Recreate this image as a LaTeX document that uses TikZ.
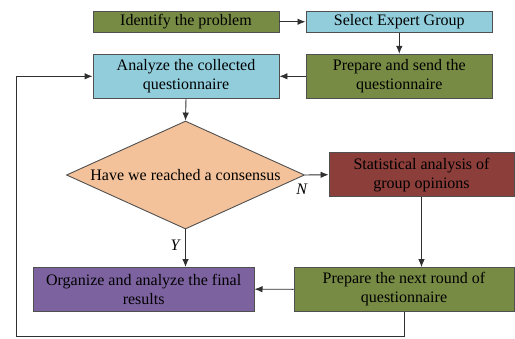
\documentclass[tikz,border=0pt]{standalone}
\usepackage{fontspec}
\setmainfont{Liberation Serif}
\usetikzlibrary{shapes.geometric,arrows.meta}
\definecolor{olivebox}{HTML}{778B45}
\definecolor{bluebox}{HTML}{92CDDC}
\definecolor{peachbox}{HTML}{F4C29A}
\definecolor{redbox}{HTML}{8C3E3A}
\definecolor{purplebox}{HTML}{7D62A0}
\definecolor{bordergray}{HTML}{505050}
\definecolor{linegray}{HTML}{303030}
\begin{document}
\begin{tikzpicture}[x=1pt,y=-1pt,
  font=\fontsize{16}{19}\selectfont,
  box/.style={draw=bordergray, line width=0.9pt, inner sep=0pt, align=center},
  onebox/.style={box, minimum height=21.5pt},
  twobox/.style={box, minimum height=44pt},
  arr/.style={draw=linegray, line width=0.9pt, -{Latex[length=8pt,width=6.5pt]}},
  lbl/.style={font=\fontsize{16}{19}\selectfont\itshape, inner sep=0pt}]
\useasboundingbox (0,0) rectangle (515,338);
\node[onebox, fill=olivebox, minimum width=186pt] (identify) at (186,21.75) {Identify the problem};
\node[onebox, fill=bluebox, minimum width=186.7pt] (select) at (399.3,21.75) {Select Expert Group};
\node[twobox, fill=olivebox, minimum width=186.7pt] (prepare) at (399.3,76.3) {Prepare and send the\\questionnaire};
\node[twobox, fill=bluebox, minimum width=186pt] (analyze) at (186,76.3) {Analyze the collected\\questionnaire};
\node[diamond, draw=bordergray, line width=0.9pt, fill=peachbox, inner sep=0pt, aspect=2.2,
      minimum width=238pt, minimum height=108pt] (decide) at (185.5,175) {Have we reached a consensus};
\node[twobox, fill=redbox, minimum width=185pt] (stat) at (421.5,174.7) {Statistical analysis of\\group opinions};
\node[twobox, fill=olivebox, minimum width=220pt, minimum height=43.5pt] (prepnext) at (404,289.3) {Prepare the next round of\\questionnaire};
\node[twobox, fill=purplebox, minimum width=220.7pt, minimum height=43.5pt] (organize) at (143.7,289.2) {Organize and analyze the final\\results};
\coordinate (loopcorner) at (16.3,336.7);

\draw[arr] (identify) -- (select);
\draw[arr] (select) -- (prepare);
\draw[arr] (prepare) -- (analyze);
\draw[arr] (analyze.south) -- (decide.north);
\draw[arr] (decide.east) -- (stat.west);
\draw[arr] (decide.south) -- (decide.south |- organize.north);
\draw[arr] (stat.south) -- (stat.south |- prepnext.north);
\draw[arr] (prepnext.west) -- (organize.east);
\draw[arr] (prepnext.south) |- (loopcorner) |- (analyze.west);
\node[lbl] (nlabel) at (301.7,189) {N};
\node[lbl] (ylabel) at (175,245) {Y};
\end{tikzpicture}
\end{document}
